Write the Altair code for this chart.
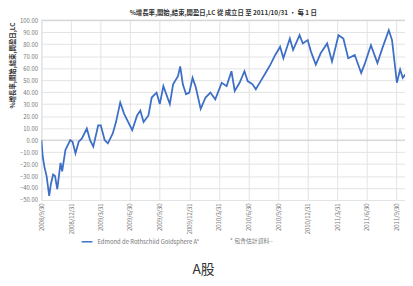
import altair as alt
import pandas as pd

series_name = "Edmond de Rothschild Goldsphere A*"
note_text = "* 包含估計資料 -"
caption_text = "A股"
chart_title = "%增長率,開始,結束,開盈日,LC 從 成立日 至 2011/10/31 • 每 1 日"
y_title = "%增長率,開始,結束,開盈日,LC"

dates = [
    "2008-09-30", "2008-10-04", "2008-10-09", "2008-10-16", "2008-10-24", "2008-10-29",
    "2008-11-05", "2008-11-11", "2008-11-18", "2008-11-28", "2008-12-03", "2008-12-13",
    "2008-12-18", "2008-12-28", "2009-01-04", "2009-01-13", "2009-01-23", "2009-02-02",
    "2009-02-17", "2009-02-27", "2009-03-09", "2009-03-24", "2009-04-01", "2009-04-13",
    "2009-04-23", "2009-05-08", "2009-05-18", "2009-05-31", "2009-06-12", "2009-06-22",
    "2009-07-07", "2009-07-22", "2009-08-01", "2009-08-11", "2009-08-26", "2009-09-05",
    "2009-09-20", "2009-09-30", "2009-10-11", "2009-10-31", "2009-11-10", "2009-11-25",
    "2009-12-02", "2009-12-10", "2009-12-20", "2009-12-30", "2010-01-09", "2010-01-19",
    "2010-02-03", "2010-02-18", "2010-03-05", "2010-03-20", "2010-04-09", "2010-04-24",
    "2010-05-09", "2010-05-19", "2010-06-03", "2010-06-18", "2010-06-28", "2010-07-13",
    "2010-07-23", "2010-08-07", "2010-08-22", "2010-09-06", "2010-09-21", "2010-10-06",
    "2010-10-16", "2010-11-05", "2010-11-15", "2010-12-05", "2010-12-15", "2010-12-30",
    "2011-01-09", "2011-01-24", "2011-02-08", "2011-02-28", "2011-03-15", "2011-04-04",
    "2011-04-19", "2011-05-04", "2011-05-24", "2011-06-13", "2011-06-23", "2011-07-13",
    "2011-08-02", "2011-08-17", "2011-09-06", "2011-09-16", "2011-10-01", "2011-10-11",
    "2011-10-19", "2011-10-31",
]
values = [
    0.0, -13.7, -21.9, -30.0, -46.5, -37.0,
    -28.7, -30.0, -41.0, -19.0, -26.0, -8.2,
    -5.5, 0.0, -1.4, -11.0, -1.4, 1.4,
    9.6, 0.0, -5.5, 12.3, 12.3, 0.0,
    -2.7, 5.5, 15.0, 31.4, 21.9, 16.4,
    8.2, 20.5, 24.6, 15.0, 20.5, 35.5,
    39.6, 30.0, 45.0, 30.0, 46.5, 53.3,
    61.5, 46.5, 38.3, 39.6, 51.9, 44.0,
    26.0, 35.5, 39.6, 34.0, 47.8, 45.0,
    57.4, 41.0, 47.8, 57.4, 49.2, 46.5,
    42.4, 49.2, 56.0, 62.9, 71.0, 77.9,
    68.3, 84.7, 75.2, 87.5, 80.6, 83.4,
    73.8, 62.9, 72.4, 80.6, 65.6, 87.5,
    84.7, 68.3, 71.0, 56.0, 62.9, 79.2,
    64.2, 76.5, 91.6, 83.4, 47.8, 58.8,
    51.9, 56.0,
]

tick_dates = [
    (2008, 9, 30), (2008, 12, 31), (2009, 3, 31), (2009, 6, 30), (2009, 9, 30),
    (2009, 12, 31), (2010, 3, 31), (2010, 6, 30), (2010, 9, 30), (2010, 12, 31),
    (2011, 3, 31), (2011, 6, 30), (2011, 9, 30),
]
y_ticks = list(range(-50, 101, 10))
ref_lines = [0, 100]

df = pd.DataFrame({"date": dates, "value": values, "series": series_name})

label_color = "#777777"
grid_color = "#e2e2e2"
blue = "#3d6fc6"

x_enc = alt.X(
    "date:T",
    scale=alt.Scale(domain=[alt.DateTime(year=2008, month=9, date=30),
                            alt.DateTime(year=2011, month=10, date=26)]),
    axis=alt.Axis(
        values=[alt.DateTime(year=y, month=m, date=d) for (y, m, d) in tick_dates],
        format="%Y/%-m/%-d", labelAngle=270, labelFontSize=6, labelColor=label_color,
        ticks=False, domain=False, gridColor=grid_color, labelPadding=3, title=None,
        labelOverlap=False,
    ),
)
y_enc = alt.Y(
    "value:Q",
    scale=alt.Scale(domain=[-50, 100], nice=False),
    axis=alt.Axis(
        values=y_ticks, format=".2f", labelFontSize=6, labelColor=label_color,
        ticks=False, domain=False, gridColor=grid_color, labelPadding=4,
        labelOverlap=False,
        title=y_title, titleFontSize=6.5, titleColor="#333333",
        titleAngle=270, titleAlign="right", titleBaseline="middle",
        titleX=-29, titleY=2, titleFontWeight="bold",
    ),
)

line = alt.Chart(df).mark_line(strokeWidth=1.8, clip=True).encode(
    x=x_enc,
    y=y_enc,
    color=alt.Color(
        "series:N",
        scale=alt.Scale(domain=[series_name], range=[blue]),
        legend=alt.Legend(
            orient="none", legendX=40, legendY=219, title=None,
            symbolType="stroke", symbolSize=120, symbolStrokeWidth=1.5,
            labelFontSize=6, labelColor=label_color,
        ),
    ),
)

rules = alt.Chart(pd.DataFrame({"value": ref_lines})).mark_rule(
    color="#d0d0d0", strokeWidth=1
).encode(y=y_enc)

note = alt.Chart(pd.DataFrame({"t": [note_text]})).mark_text(
    align="left", fontSize=6, color=label_color, font="Noto Sans CJK TC"
).encode(text="t:N", x=alt.value(192), y=alt.value(225))

caption = alt.Chart(pd.DataFrame({"t": [caption_text]})).mark_text(
    align="center", fontSize=14, color="#333333", font="Noto Sans CJK TC"
).encode(text="t:N", x=alt.value(165), y=alt.value(254))

chart = alt.layer(rules, line, note, caption).properties(
    width=370, height=183,
    title=alt.TitleParams(chart_title, fontSize=6.5, color="#333333", offset=1,
                          font="Noto Sans CJK TC", fontWeight="bold"),
    autosize=alt.AutoSizeParams(type="none"),
    padding={"left": 34, "top": 10, "right": 0, "bottom": 80},
).configure_view(stroke=None).configure(font="Noto Sans CJK TC")

chart.save("out.html", embed_options={"renderer": "svg", "actions": False})
